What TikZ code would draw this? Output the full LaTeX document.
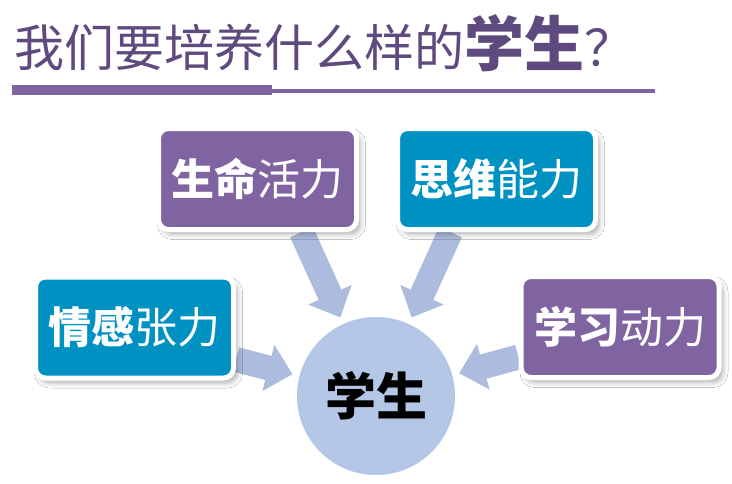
\documentclass[tikz,border=0pt]{standalone}
\usepackage{fontspec}
\newfontfamily\cjk{Noto Sans CJK SC}
\usetikzlibrary{arrows.meta,shadows.blur,backgrounds}
\definecolor{boxpurple}{HTML}{8064A2}
\definecolor{boxteal}{HTML}{0091C3}
\definecolor{titlepurple}{HTML}{5E4A7E}
\definecolor{flowblue}{HTML}{ADBCDE}
\definecolor{studentblue}{HTML}{B4C7E7}

\begin{document}
\begin{tikzpicture}[x=1pt, y=-1pt,
  box/.style={draw=white, line width=5pt, rounded corners=10pt,
              minimum width=198pt, minimum height=101pt, text=white,
              font=\cjk\fontsize{43}{48}\selectfont,
              blur shadow={shadow xshift=4pt, shadow yshift=-5pt,
                           shadow blur radius=5pt, shadow opacity=30}},
  flow/.style={line width=25pt, flowblue,
               -{Triangle[length=25pt,width=46pt]}, shorten >=7pt},
  ]
  \useasboundingbox (0,0) rectangle (732,483);

  % title and its rule
  \node[anchor=base west, inner sep=0pt, text=titlepurple,
        font=\cjk\fontsize{50}{56}\selectfont] (title) at (14,66)
        {我们要培养什么样的{\fontsize{60}{66}\selectfont\bfseries 学生}？};
  \fill[boxpurple] (12,85) rectangle (272,95);
  \fill[boxpurple] (272,89) rectangle (655,92.5);

  % the four forces
  \node[box, fill=boxpurple] (life)  at (257.5,179) {{\bfseries 生命}活力};
  \node[box, fill=boxteal]   (think) at (496.5,179) {{\bfseries 思维}能力};
  \node[box, fill=boxteal]   (emo)   at (134.5,327.5) {{\bfseries 情感}张力};
  \node[box, fill=boxpurple] (learn) at (620,327) {{\bfseries 学习}动力};

  % the student
  \node[circle, fill=studentblue, minimum size=158pt, inner sep=0pt,
        font=\cjk\fontsize{51}{56}\selectfont\bfseries] (stu) at (376,396) {学生};

  \begin{scope}[on background layer]
    \fill[white] (0,0) rectangle (732,483);
    \draw[flow] ([xshift=44pt]life.south) -- (stu);
    \draw[flow] ([xshift=-46pt]think.south) -- (stu);
    \draw[flow] ([yshift=-32pt]emo.east) -- (stu);
    \draw[flow] ([yshift=-30pt]learn.west) -- (stu);
  \end{scope}
\end{tikzpicture}
\end{document}
